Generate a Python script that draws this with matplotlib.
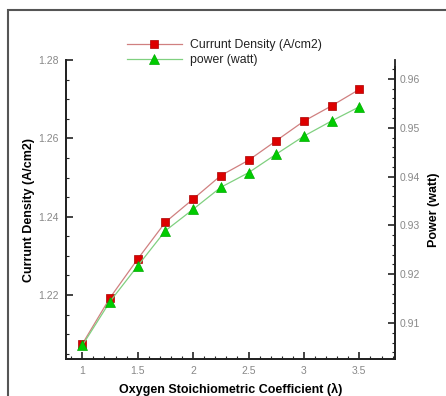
import matplotlib
matplotlib.use("Agg")
import matplotlib.pyplot as plt
from matplotlib.ticker import MultipleLocator
from matplotlib.patches import Rectangle

# data
lam = [1.0, 1.25, 1.5, 1.75, 2.0, 2.25, 2.5, 2.75, 3.0, 3.25, 3.5]
current_density = [1.2075, 1.2193, 1.2292, 1.2386, 1.2445, 1.2505,
                   1.2544, 1.2594, 1.2644, 1.2683, 1.2725]
power = [0.9054, 0.9144, 0.9217, 0.9289, 0.9333, 0.9378,
         0.9408, 0.9446, 0.9483, 0.9514, 0.9543]

plt.rcParams['font.family'] = ['Liberation Sans', 'DejaVu Sans']

fig = plt.figure(figsize=(4.46, 3.96), dpi=100)
ax = fig.add_axes([0.1473, 0.0927, 0.7384, 0.7558])
ax2 = ax.twinx()

# frame around the whole figure
fig.patches.append(Rectangle((8 / 446, -0.1), 1.2, 1.1 - 9.5 / 396,
                             transform=fig.transFigure, fill=False,
                             edgecolor='#555555', linewidth=1.5))

l1, = ax.plot(lam, current_density, color='#d08080', lw=0.9, marker='s',
              ms=6, mfc='#dd0000', mec='#aa0000', mew=0.5,
              label='Currunt Density (A/cm2)')
l2, = ax2.plot(lam, power, color='#80d080', lw=0.9, marker='^',
               ms=6.5, mfc='#00cc00', mec='#00aa00', mew=0.5,
               label='power (watt)')

ax.set_xlim(0.85, 3.822)
ax.set_ylim(1.2036, 1.28)
ax2.set_ylim(0.90256, 0.96389)

ax.xaxis.set_minor_locator(MultipleLocator(0.1))
ax.yaxis.set_minor_locator(MultipleLocator(0.005))
ax2.yaxis.set_minor_locator(MultipleLocator(0.002))
ax.set_xticks([1, 1.5, 2, 2.5, 3, 3.5])
ax.set_xticklabels(['1', '1.5', '2', '2.5', '3', '3.5'])
ax.set_yticks([1.22, 1.24, 1.26, 1.28])
ax.set_yticklabels(['1.22', '1.24', '1.26', '1.28'])
ax2.set_yticks([0.91, 0.92, 0.93, 0.94, 0.95, 0.96])
ax2.set_yticklabels(['0.91', '0.92', '0.93', '0.94', '0.95', '0.96'])

for a in (ax, ax2):
    a.spines['top'].set_visible(False)
    for s in a.spines.values():
        s.set_linewidth(1.3)
        s.set_color('#222222')
    a.tick_params(which='major', direction='in', length=5, width=1.2,
                  labelsize=7.5, labelcolor='#888888', color='#222222')
    a.tick_params(which='minor', direction='in', length=2.5, width=0.8,
                  color='#222222')
ax2.spines['right'].set_bounds(0.90256, 0.9625)
ax.tick_params(axis='both', which='major', pad=5)
ax2.tick_params(axis='y', which='major', pad=3)

ax.set_xlabel('Oxygen Stoichiometric Coefficient (λ)', fontsize=9,
              fontweight='bold', labelpad=5)
ax.set_ylabel('Currunt Density (A/cm2)', fontsize=9, fontweight='bold',
              labelpad=2)
ax2.set_ylabel('Power (watt)', fontsize=9, fontweight='bold', labelpad=6)

leg = ax.legend([l1, l2], [l1.get_label(), l2.get_label()],
                loc='center left', bbox_to_anchor=(0.171, 1.025),
                frameon=False, fontsize=8.8, handlelength=4.5,
                handletextpad=0.65, labelspacing=0.25, borderaxespad=0)
for t in leg.get_texts():
    t.set_color('#222222')

fig.savefig('out.png', dpi=100)
